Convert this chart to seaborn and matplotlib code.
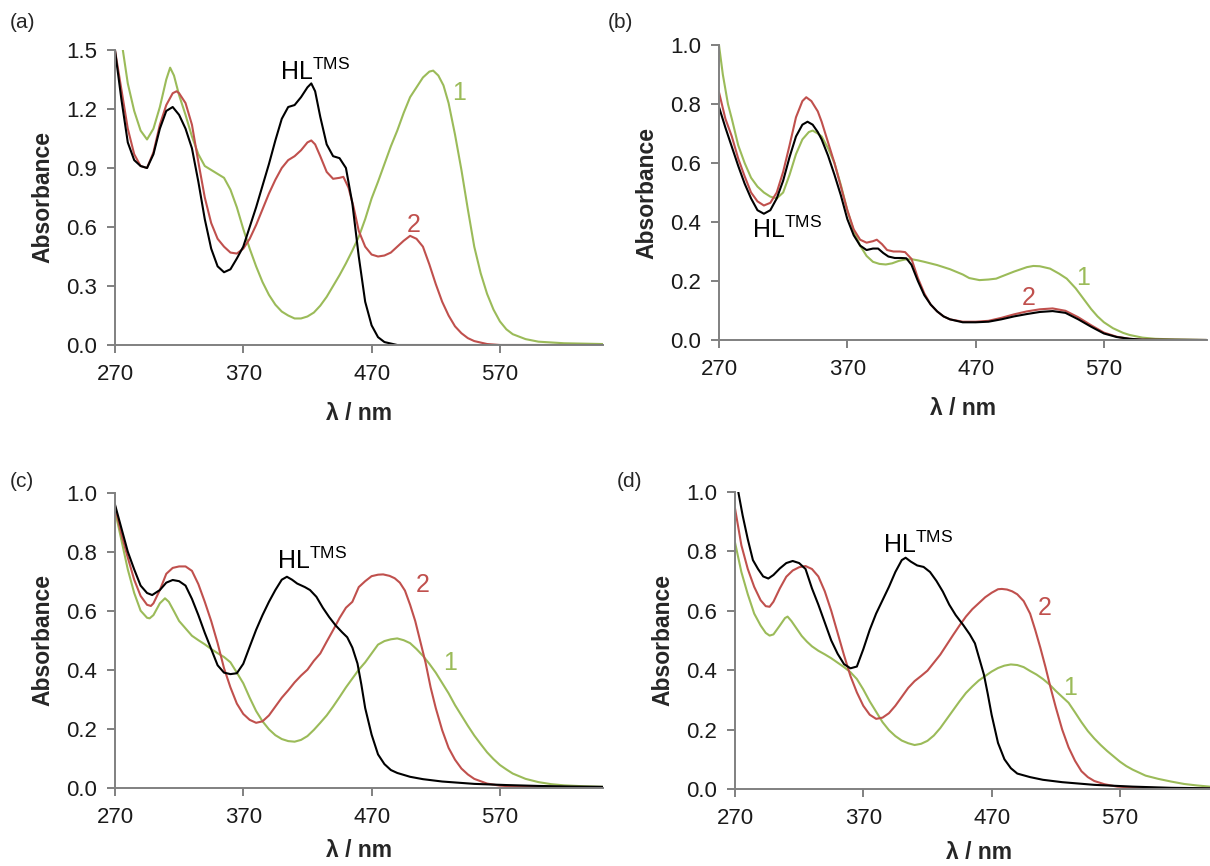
import numpy as np
import pandas as pd
import seaborn as sns
import matplotlib.pyplot as plt

# ---- panel (a) ----
a_black_nm = [270, 275, 280, 285, 290, 295, 300, 305, 310, 315, 320, 325, 330, 335, 340, 345, 350, 355, 360, 365, 370, 375, 380, 385, 390, 395, 400, 405, 410, 415, 420, 423, 426, 430, 435, 440, 445, 450, 455, 460, 465, 470, 475, 480, 490, 650]
a_black_abs = [1.50, 1.25, 1.03, 0.94, 0.91, 0.90, 0.97, 1.10, 1.19, 1.21, 1.17, 1.10, 1.00, 0.83, 0.64, 0.49, 0.40, 0.37, 0.385, 0.44, 0.50, 0.60, 0.70, 0.81, 0.92, 1.04, 1.15, 1.21, 1.22, 1.26, 1.31, 1.33, 1.29, 1.16, 1.02, 0.96, 0.95, 0.90, 0.72, 0.45, 0.22, 0.10, 0.04, 0.015, 0.0, 0.0]
a_red_nm = [270, 275, 280, 285, 290, 295, 300, 305, 310, 315, 318, 320, 325, 330, 335, 340, 345, 350, 355, 360, 365, 370, 375, 380, 385, 390, 395, 400, 405, 410, 415, 420, 423, 426, 430, 435, 440, 445, 448, 452, 456, 460, 465, 470, 475, 480, 485, 490, 495, 500, 505, 510, 515, 520, 525, 530, 535, 540, 545, 550, 560, 570, 650]
a_red_abs = [1.50, 1.30, 1.10, 0.97, 0.91, 0.90, 0.98, 1.12, 1.22, 1.28, 1.29, 1.28, 1.23, 1.12, 0.93, 0.75, 0.62, 0.54, 0.50, 0.47, 0.465, 0.49, 0.54, 0.61, 0.69, 0.77, 0.84, 0.90, 0.94, 0.96, 0.99, 1.03, 1.04, 1.02, 0.96, 0.88, 0.845, 0.85, 0.855, 0.80, 0.70, 0.58, 0.50, 0.46, 0.45, 0.455, 0.47, 0.50, 0.53, 0.555, 0.54, 0.50, 0.41, 0.31, 0.22, 0.15, 0.095, 0.06, 0.035, 0.02, 0.005, 0.0, 0.0]
a_green_nm = [270, 275, 280, 285, 290, 295, 300, 305, 310, 313, 316, 320, 325, 330, 335, 340, 345, 350, 355, 360, 365, 370, 375, 380, 385, 390, 395, 400, 405, 410, 415, 420, 425, 430, 435, 440, 445, 450, 455, 460, 465, 470, 475, 480, 485, 490, 495, 500, 505, 510, 515, 518, 522, 526, 530, 535, 540, 545, 550, 555, 560, 565, 570, 575, 580, 590, 600, 620, 650]
a_green_abs = [1.78, 1.55, 1.33, 1.19, 1.09, 1.045, 1.10, 1.21, 1.35, 1.41, 1.37, 1.27, 1.17, 1.06, 0.97, 0.91, 0.89, 0.87, 0.85, 0.79, 0.70, 0.59, 0.49, 0.40, 0.32, 0.255, 0.205, 0.17, 0.15, 0.135, 0.135, 0.145, 0.165, 0.20, 0.245, 0.30, 0.355, 0.415, 0.48, 0.55, 0.64, 0.745, 0.83, 0.92, 1.01, 1.09, 1.18, 1.26, 1.31, 1.36, 1.39, 1.395, 1.37, 1.32, 1.23, 1.07, 0.89, 0.69, 0.50, 0.365, 0.26, 0.18, 0.12, 0.08, 0.055, 0.03, 0.017, 0.009, 0.005]

# ---- panel (b) ----
b_black_nm = [270, 275, 280, 285, 290, 295, 300, 305, 310, 315, 320, 325, 330, 335, 339, 343, 347, 350, 355, 360, 365, 370, 375, 380, 385, 390, 394, 398, 402, 407, 412, 416, 420, 425, 430, 435, 440, 445, 450, 460, 470, 480, 490, 500, 510, 520, 530, 540, 550, 560, 570, 580, 590, 600, 650]
b_black_abs = [0.79, 0.72, 0.655, 0.59, 0.53, 0.48, 0.44, 0.428, 0.44, 0.48, 0.54, 0.62, 0.69, 0.73, 0.74, 0.73, 0.705, 0.68, 0.625, 0.56, 0.49, 0.41, 0.355, 0.32, 0.305, 0.31, 0.31, 0.295, 0.283, 0.278, 0.278, 0.277, 0.255, 0.20, 0.152, 0.12, 0.097, 0.08, 0.07, 0.06, 0.06, 0.062, 0.07, 0.08, 0.088, 0.095, 0.098, 0.092, 0.07, 0.045, 0.022, 0.01, 0.004, 0.001, 0.0]
b_red_nm = [270, 275, 280, 285, 290, 295, 300, 305, 310, 315, 320, 325, 330, 335, 338, 342, 347, 350, 355, 360, 365, 370, 375, 380, 385, 390, 393, 397, 401, 406, 411, 415, 420, 425, 430, 435, 440, 445, 450, 460, 470, 480, 490, 500, 510, 520, 530, 540, 550, 560, 570, 580, 590, 600, 650]
b_red_abs = [0.84, 0.75, 0.69, 0.615, 0.555, 0.50, 0.47, 0.456, 0.465, 0.50, 0.57, 0.66, 0.755, 0.81, 0.823, 0.81, 0.775, 0.74, 0.67, 0.60, 0.52, 0.44, 0.375, 0.34, 0.33, 0.335, 0.34, 0.325, 0.305, 0.30, 0.30, 0.298, 0.275, 0.21, 0.158, 0.12, 0.097, 0.08, 0.07, 0.062, 0.062, 0.065, 0.075, 0.087, 0.097, 0.104, 0.107, 0.099, 0.077, 0.05, 0.025, 0.011, 0.004, 0.001, 0.0]
b_green_nm = [270, 273, 277, 280, 285, 290, 295, 300, 305, 310, 315, 320, 325, 330, 335, 340, 343, 347, 350, 355, 360, 365, 370, 375, 380, 385, 390, 395, 400, 405, 410, 415, 420, 425, 430, 440, 450, 460, 465, 473, 480, 486, 490, 500, 510, 515, 520, 528, 535, 541, 548, 554, 560, 565, 570, 577, 585, 590, 600, 610, 625, 650]
b_green_abs = [1.0, 0.90, 0.80, 0.75, 0.66, 0.60, 0.55, 0.52, 0.50, 0.486, 0.48, 0.50, 0.56, 0.63, 0.68, 0.705, 0.71, 0.70, 0.69, 0.65, 0.60, 0.525, 0.44, 0.37, 0.32, 0.285, 0.265, 0.258, 0.256, 0.26, 0.268, 0.273, 0.274, 0.27, 0.265, 0.254, 0.24, 0.222, 0.21, 0.203, 0.205, 0.208, 0.215, 0.232, 0.247, 0.251, 0.25, 0.242, 0.225, 0.208, 0.175, 0.14, 0.105, 0.08, 0.06, 0.04, 0.024, 0.017, 0.008, 0.004, 0.002, 0.0]

# ---- panel (c) ----
c_black_nm = [270, 275, 280, 285, 290, 295, 299, 305, 310, 315, 320, 325, 330, 335, 340, 345, 350, 355, 360, 365, 370, 375, 380, 385, 390, 395, 400, 404, 408, 412, 418, 422, 427, 432, 437, 442, 447, 451, 455, 459, 462, 465, 470, 475, 480, 485, 490, 500, 510, 525, 550, 575, 600, 625, 650]
c_black_abs = [0.96, 0.88, 0.80, 0.74, 0.685, 0.66, 0.653, 0.67, 0.695, 0.704, 0.70, 0.685, 0.64, 0.585, 0.525, 0.47, 0.415, 0.39, 0.385, 0.388, 0.42, 0.478, 0.535, 0.585, 0.63, 0.67, 0.705, 0.715, 0.705, 0.692, 0.68, 0.67, 0.647, 0.61, 0.578, 0.55, 0.527, 0.51, 0.475, 0.421, 0.35, 0.27, 0.18, 0.113, 0.08, 0.06, 0.05, 0.037, 0.029, 0.021, 0.013, 0.009, 0.006, 0.004, 0.003]
c_red_nm = [270, 275, 280, 285, 290, 295, 298, 300, 305, 310, 315, 320, 325, 330, 335, 340, 345, 350, 355, 360, 365, 370, 375, 380, 385, 390, 395, 400, 405, 410, 415, 420, 425, 430, 435, 440, 445, 450, 455, 460, 465, 470, 475, 479, 484, 488, 492, 496, 500, 504, 508, 512, 516, 520, 525, 530, 535, 540, 545, 550, 560, 570, 585, 610, 650]
c_red_abs = [0.955, 0.86, 0.78, 0.705, 0.65, 0.62, 0.616, 0.625, 0.67, 0.725, 0.745, 0.75, 0.75, 0.735, 0.69, 0.63, 0.565, 0.49, 0.405, 0.34, 0.285, 0.25, 0.23, 0.22, 0.225, 0.245, 0.275, 0.305, 0.33, 0.357, 0.38, 0.40, 0.43, 0.455, 0.495, 0.534, 0.575, 0.61, 0.63, 0.68, 0.70, 0.717, 0.722, 0.723, 0.718, 0.71, 0.695, 0.668, 0.62, 0.565, 0.495, 0.425, 0.34, 0.27, 0.195, 0.135, 0.095, 0.065, 0.045, 0.03, 0.014, 0.007, 0.003, 0.002, 0.001]
c_green_nm = [270, 275, 280, 285, 290, 295, 297, 300, 305, 309, 312, 316, 320, 325, 330, 335, 340, 345, 350, 355, 360, 365, 370, 375, 380, 385, 390, 395, 400, 405, 410, 415, 420, 425, 430, 435, 440, 445, 450, 455, 460, 465, 470, 475, 480, 485, 490, 495, 500, 505, 510, 515, 520, 525, 530, 535, 540, 545, 550, 555, 560, 565, 570, 575, 580, 590, 600, 610, 620, 635, 650]
c_green_abs = [0.94, 0.84, 0.74, 0.66, 0.60, 0.576, 0.574, 0.585, 0.625, 0.642, 0.63, 0.598, 0.565, 0.54, 0.515, 0.50, 0.486, 0.47, 0.456, 0.443, 0.425, 0.39, 0.354, 0.305, 0.26, 0.225, 0.198, 0.178, 0.165, 0.158, 0.156, 0.162, 0.175, 0.196, 0.22, 0.245, 0.275, 0.307, 0.34, 0.37, 0.40, 0.425, 0.455, 0.485, 0.497, 0.503, 0.506, 0.50, 0.49, 0.47, 0.447, 0.42, 0.39, 0.355, 0.32, 0.28, 0.245, 0.21, 0.177, 0.148, 0.12, 0.097, 0.077, 0.062, 0.048, 0.03, 0.019, 0.012, 0.008, 0.005, 0.003]

# ---- panel (d) ----
d_black_nm = [270, 273, 276, 280, 284, 288, 292, 296, 300, 305, 310, 315, 320, 325, 330, 335, 340, 345, 350, 355, 360, 365, 370, 375, 380, 385, 390, 395, 400, 403, 407, 412, 417, 422, 427, 432, 437, 442, 448, 453, 457, 461, 464, 467, 470, 475, 480, 485, 490, 500, 510, 525, 550, 580, 610, 650]
d_black_abs = [1.06, 0.99, 0.92, 0.84, 0.77, 0.74, 0.715, 0.708, 0.72, 0.742, 0.76, 0.767, 0.76, 0.74, 0.675, 0.62, 0.56, 0.50, 0.455, 0.42, 0.406, 0.412, 0.47, 0.535, 0.59, 0.635, 0.68, 0.73, 0.77, 0.778, 0.765, 0.752, 0.747, 0.73, 0.70, 0.664, 0.62, 0.585, 0.551, 0.52, 0.49, 0.43, 0.385, 0.32, 0.25, 0.155, 0.10, 0.07, 0.052, 0.04, 0.031, 0.023, 0.014, 0.008, 0.004, 0.002]
d_red_nm = [270, 275, 280, 285, 290, 294, 297, 300, 305, 310, 315, 320, 325, 330, 335, 340, 345, 350, 355, 360, 365, 370, 375, 380, 385, 390, 395, 400, 405, 410, 415, 420, 425, 430, 435, 440, 445, 450, 455, 460, 465, 470, 475, 478, 482, 486, 490, 495, 500, 504, 508, 512, 516, 520, 525, 530, 535, 540, 545, 550, 558, 568, 585, 620, 650]
d_red_abs = [0.945, 0.82, 0.74, 0.68, 0.635, 0.615, 0.613, 0.63, 0.675, 0.714, 0.735, 0.746, 0.75, 0.74, 0.715, 0.665, 0.60, 0.525, 0.45, 0.38, 0.325, 0.28, 0.25, 0.236, 0.24, 0.255, 0.28, 0.31, 0.34, 0.363, 0.38, 0.398, 0.425, 0.452, 0.485, 0.518, 0.55, 0.58, 0.605, 0.625, 0.645, 0.66, 0.672, 0.673, 0.671, 0.665, 0.655, 0.632, 0.59, 0.535, 0.475, 0.41, 0.34, 0.275, 0.20, 0.14, 0.095, 0.06, 0.04, 0.027, 0.016, 0.008, 0.004, 0.002, 0.001]
d_green_nm = [270, 275, 280, 285, 290, 294, 297, 300, 305, 309, 311, 314, 318, 322, 326, 330, 335, 340, 345, 350, 355, 360, 365, 370, 375, 380, 385, 390, 395, 400, 405, 410, 415, 420, 425, 430, 435, 440, 445, 450, 455, 460, 465, 470, 475, 480, 485, 490, 495, 500, 505, 510, 515, 520, 525, 530, 535, 540, 545, 550, 555, 560, 565, 570, 575, 580, 590, 600, 610, 620, 630, 640, 650]
d_green_abs = [0.83, 0.73, 0.655, 0.59, 0.55, 0.525, 0.516, 0.52, 0.55, 0.575, 0.58, 0.565, 0.54, 0.515, 0.496, 0.48, 0.465, 0.453, 0.44, 0.425, 0.41, 0.393, 0.37, 0.335, 0.295, 0.26, 0.225, 0.198, 0.178, 0.163, 0.154, 0.148, 0.152, 0.162, 0.18, 0.205, 0.235, 0.265, 0.295, 0.323, 0.345, 0.365, 0.38, 0.395, 0.407, 0.415, 0.419, 0.417, 0.41, 0.397, 0.385, 0.37, 0.352, 0.33, 0.31, 0.29, 0.258, 0.225, 0.195, 0.17, 0.148, 0.128, 0.11, 0.092, 0.077, 0.065, 0.045, 0.034, 0.025, 0.017, 0.012, 0.008, 0.006]

panel_names = ['(a)', '(b)', '(c)', '(d)']
y_max = [1.5, 1.0, 1.0, 1.0]
y_step = [0.3, 0.2, 0.2, 0.2]
x_ticks = [270, 370, 470, 570]

# label anchors (nm, absorbance)
hl_pos = [(398.6, 1.347), (295.4, 0.347), (396, 0.741), (385.6, 0.795)]
one_pos = [(538, 1.246), (554, 0.186), (531, 0.399), (531, 0.316)]
two_pos = [(503, 0.576), (511, 0.118), (510, 0.664), (511, 0.585)]

series_colors = {'HL': '#000000', '2': '#c0504d', '1': '#9bbb59'}

sns.set_style("ticks")
plt.rcParams['font.family'] = ['Liberation Sans', 'DejaVu Sans']
plt.rcParams['mathtext.fontset'] = 'custom'
plt.rcParams['mathtext.rm'] = 'Liberation Sans'


def make_frame(black_nm, black_abs, red_nm, red_abs, green_nm, green_abs):
    parts = []
    for name, nm, ab in [('1', green_nm, green_abs), ('2', red_nm, red_abs), ('HL', black_nm, black_abs)]:
        parts.append(pd.DataFrame({'nm': nm, 'abs': ab, 'cmpd': name}))
    return pd.concat(parts, ignore_index=True)


frames = [
    make_frame(a_black_nm, a_black_abs, a_red_nm, a_red_abs, a_green_nm, a_green_abs),
    make_frame(b_black_nm, b_black_abs, b_red_nm, b_red_abs, b_green_nm, b_green_abs),
    make_frame(c_black_nm, c_black_abs, c_red_nm, c_red_abs, c_green_nm, c_green_abs),
    make_frame(d_black_nm, d_black_abs, d_red_nm, d_red_abs, d_green_nm, d_green_abs),
]

fig = plt.figure(figsize=(12.1, 8.66), dpi=100)
rects = [
    [0.0950, 0.6016, 0.403, 0.3407],
    [0.5942, 0.6074, 0.403, 0.3406],
    [0.0950, 0.0904, 0.403, 0.3407],
    [0.6074, 0.0889, 0.403, 0.3433],
]
label_xy = [(0.008, 0.985), (0.502, 0.985), (0.008, 0.455), (0.510, 0.455)]
xlabel_pad = [12, 12, 8, 8]
spine_gray = '#808080'

for i in range(4):
    ax = fig.add_axes(rects[i])
    sns.lineplot(ax=ax, data=frames[i], x='nm', y='abs', hue='cmpd', palette=series_colors,
                 estimator=None, sort=False, legend=False, linewidth=1.5)
    for ln in ax.get_lines():
        ln.set_solid_joinstyle('round')
    ax.set_xlim(270, 650)
    ax.set_ylim(0, y_max[i])
    ax.set_xticks(x_ticks)
    ax.set_yticks(np.round(np.arange(0, y_max[i] + 0.01, y_step[i]), 1))
    ax.yaxis.set_major_formatter(plt.FormatStrFormatter('%.1f'))
    sns.despine(ax=ax)
    for s in ['left', 'bottom']:
        ax.spines[s].set_color(spine_gray)
        ax.spines[s].set_linewidth(1.4)
    ax.tick_params(axis='both', direction='out', length=6, width=1.4, color=spine_gray,
                   labelsize=16, labelcolor='#1a1a1a')
    ax.tick_params(axis='x', pad=8)
    ax.tick_params(axis='y', pad=7)
    ax.set_xlabel('λ / nm', fontsize=16.5, fontweight='bold', labelpad=xlabel_pad[i])
    ax.set_ylabel('Absorbance', fontsize=16.5, fontweight='bold', labelpad=8)

    ax.text(hl_pos[i][0], hl_pos[i][1], r'HL$^{\mathrm{TMS}}$', fontsize=18, color='black',
            ha='left', va='baseline')
    ax.text(one_pos[i][0], one_pos[i][1], '1', fontsize=18, color=series_colors['1'],
            ha='center', va='baseline')
    ax.text(two_pos[i][0], two_pos[i][1], '2', fontsize=18, color=series_colors['2'],
            ha='center', va='baseline')

    fig.text(label_xy[i][0], label_xy[i][1], panel_names[i], fontsize=15, ha='left', va='top')

fig.savefig('out.png', dpi=100)
